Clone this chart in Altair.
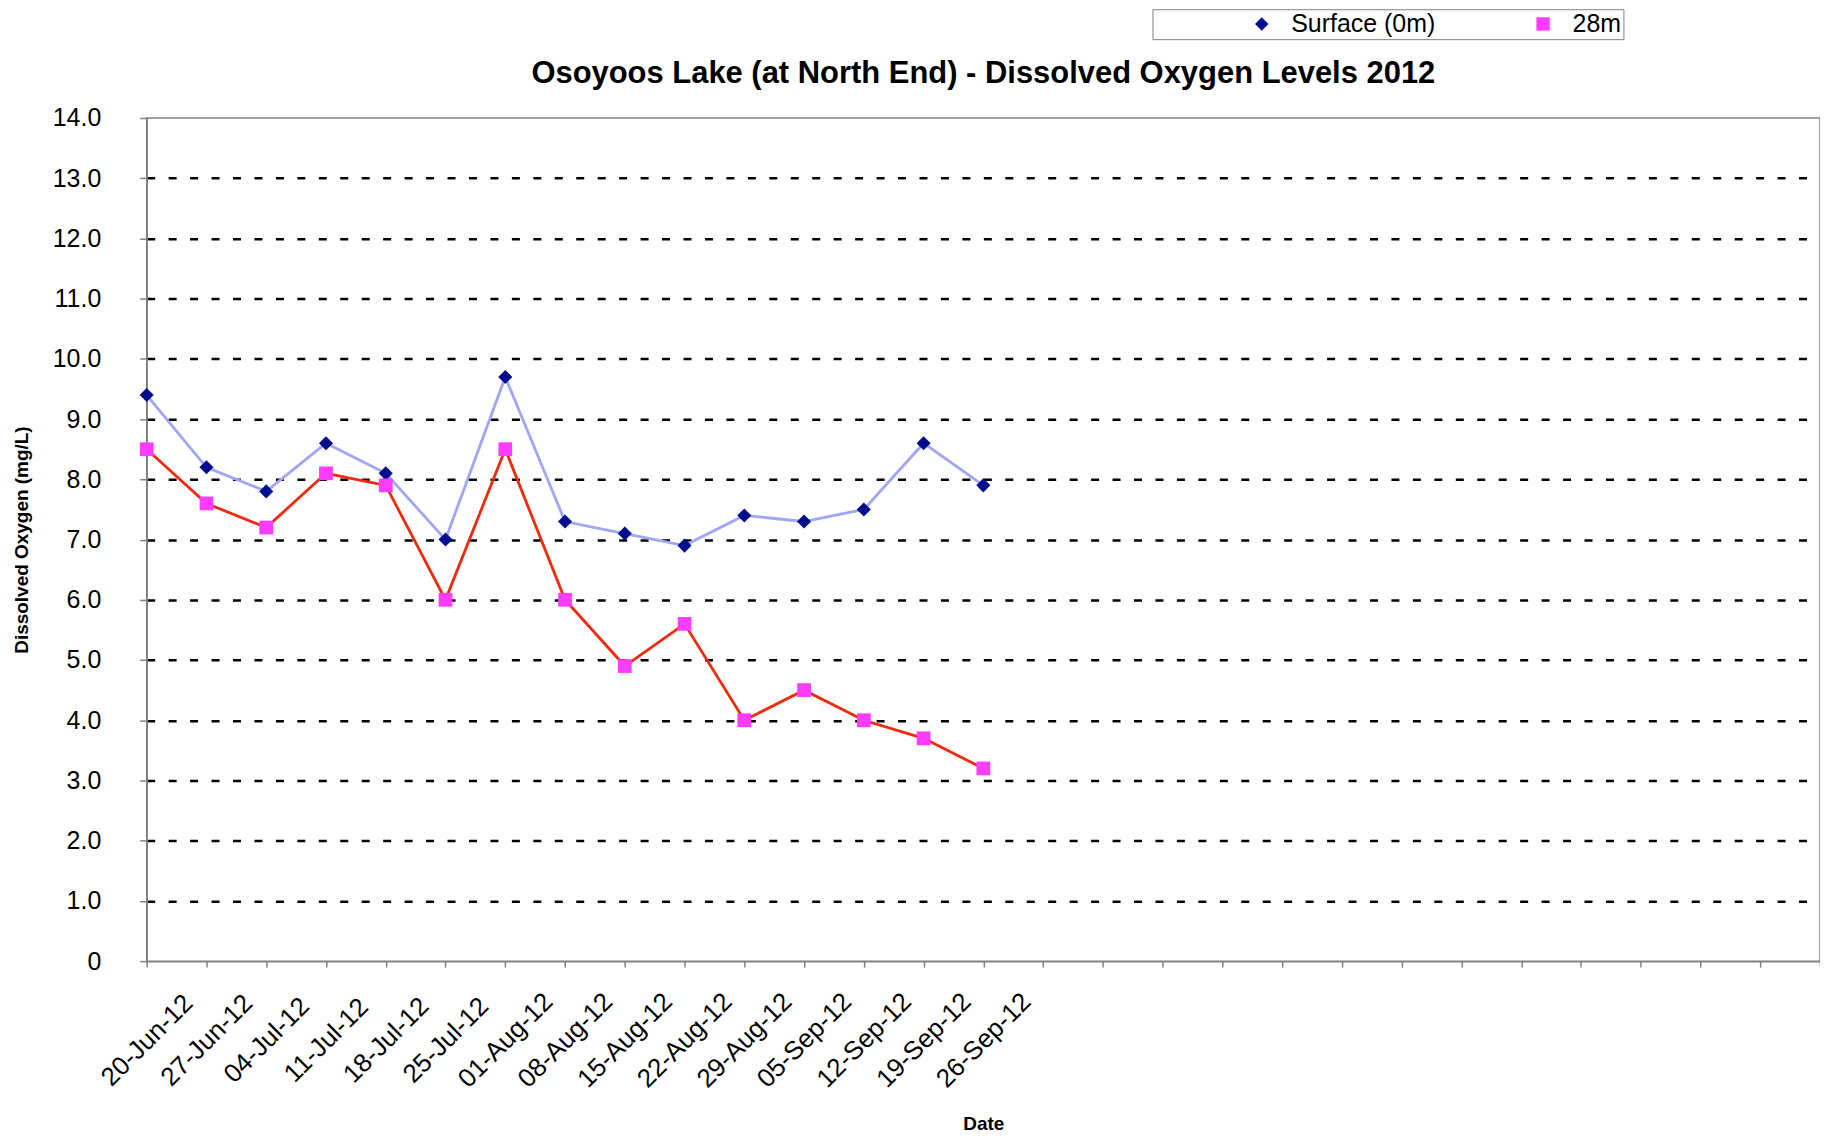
import altair as alt
import pandas as pd

# ---- data ----
dates = ["2012-06-20", "2012-06-27", "2012-07-04", "2012-07-11", "2012-07-18",
         "2012-07-25", "2012-08-01", "2012-08-08", "2012-08-15", "2012-08-22",
         "2012-08-29", "2012-09-05", "2012-09-12", "2012-09-19", "2012-09-26"]
surface = [9.4, 8.2, 7.8, 8.6, 8.1, 7.0, 9.7, 7.3, 7.1, 6.9, 7.4, 7.3, 7.5, 8.6, 7.9]
deep_28m = [8.5, 7.6, 7.2, 8.1, 7.9, 6.0, 8.5, 6.0, 4.9, 5.6, 4.0, 4.5, 4.0, 3.7, 3.2]
series_names = ["Surface (0m)", "28m"]

# weekly axis ticks (only the first 15 carry labels)
tick_dates = ["2012-06-20", "2012-06-27", "2012-07-04", "2012-07-11", "2012-07-18",
              "2012-07-25", "2012-08-01", "2012-08-08", "2012-08-15", "2012-08-22",
              "2012-08-29", "2012-09-05", "2012-09-12", "2012-09-19", "2012-09-26",
              "2012-10-03", "2012-10-10", "2012-10-17", "2012-10-24", "2012-10-31",
              "2012-11-07", "2012-11-14", "2012-11-21", "2012-11-28", "2012-12-05",
              "2012-12-12", "2012-12-19", "2012-12-26", "2013-01-02"]
y_ticks = [0, 1, 2, 3, 4, 5, 6, 7, 8, 9, 10, 11, 12, 13, 14]

line_colors = ["#A0A6F5", "#F02A0A"]
marker_colors = ["#000D8C", "#FF3CFF"]
marker_shapes = ["diamond", "square"]
marker_sizes = [200, 190]

series_col = [series_names[0]] * len(dates) + [series_names[1]] * len(dates)
df = pd.DataFrame({
    "date": dates + dates,
    "value": surface + deep_28m,
    "series": series_col,
    "line_series": series_col,
    "size_series": series_col,
})

# data-derived (alphabetical) domains for the helper channels, so that their
# disabled legends are not merged with the visible one
sorted_names = sorted(series_names)
line_range = [line_colors[series_names.index(s)] for s in sorted_names]
size_range = [marker_sizes[series_names.index(s)] for s in sorted_names]


def dt(s):
    y, m, d = (int(p) for p in s.split("-"))
    return alt.DateTime(year=y, month=m, date=d, utc=True)


FONT = "Liberation Sans"
W, H = 1677, 845
LEGEND_Y = -109
NBSP_PAD = "\u00a0" * 14

x_enc = alt.X(
    "date:T",
    scale=alt.Scale(type="utc", domain=[dt(tick_dates[0]), dt(tick_dates[-1])]),
    axis=alt.Axis(
        values=[dt(s) for s in tick_dates],
        labelExpr="datum.value < utc(2012, 8, 27) ? utcFormat(datum.value, '%d-%b-%y') : ''",
        labelAngle=-45, labelAlign="center", labelBaseline="middle",
        labelPadding=73, tickSize=6, grid=False, labelFontSize=26,
        labelOverlap=False, labelFlush=False,
        title="Date", titleY=163, titleBaseline="middle",
    ),
)

y_enc = alt.Y(
    "value:Q",
    scale=alt.Scale(domain=[0, 14], nice=False),
    axis=alt.Axis(
        values=y_ticks,
        labelExpr="datum.value == 0 ? '0' : format(datum.value, '.1f')",
        tickSize=7, labelPadding=39,
        grid=True, gridColor="black", gridDash=[8, 13.5], gridWidth=2.5,
        gridOpacity={"condition": {"test": "datum.value == 0 || datum.value == 14", "value": 0}, "value": 1},
        title="Dissolved Oxygen (mg/L)", titleX=-125, titleY=H / 2,
        titleAngle=-90, titleAlign="center", titleBaseline="middle",
    ),
)

legend_props = dict(
    title=None, orient="none", legendX=1008, legendY=LEGEND_Y, direction="horizontal",
    fillColor="white", strokeColor="#808080", padding=2,
    labelFont=FONT, labelFontSize=25, labelColor="black", labelLimit=500,
    symbolSize=180, symbolStrokeWidth=0, symbolOffset=95, labelOffset=17,
    columnPadding=0,
    labelExpr="datum.label == '28m' ? '28m" + NBSP_PAD + "' : datum.label",
)

lines = alt.Chart(df).mark_line(strokeWidth=2.8).encode(
    x=x_enc, y=y_enc,
    stroke=alt.Stroke("line_series:N", scale=alt.Scale(range=line_range), legend=None),
)

points = alt.Chart(df).mark_point(filled=True, opacity=1, strokeWidth=0).encode(
    x=x_enc, y=y_enc,
    fill=alt.Fill("series:N", scale=alt.Scale(domain=series_names, range=marker_colors),
                  legend=alt.Legend(**legend_props)),
    shape=alt.Shape("series:N", scale=alt.Scale(domain=series_names, range=marker_shapes),
                    legend=alt.Legend(**legend_props)),
    size=alt.Size("size_series:N", scale=alt.Scale(range=size_range), legend=None),
)

chart = alt.layer(lines, points).properties(
    width=W, height=H,
    title=alt.Title("Osoyoos Lake (at North End) - Dissolved Oxygen Levels 2012",
                    font=FONT, fontSize=31, fontWeight="bold", color="black",
                    anchor="middle", frame="group", offset=-105.5, baseline="alphabetic"),
    autosize=alt.AutoSizeParams(type="none"),
    padding={"left": 139, "top": 109, "right": 0, "bottom": 171},
).configure(font=FONT).configure_view(
    stroke="#808080", strokeWidth=1.5
).configure_axis(
    domainColor="#808080", domainWidth=1.5, tickColor="#808080", tickWidth=1.5,
    labelFont=FONT, labelFontSize=25, labelColor="black",
    titleFont=FONT, titleFontSize=19, titleFontWeight="bold", titleColor="black",
)

chart.save("out.html", embed_options={"renderer": "svg", "actions": False})
